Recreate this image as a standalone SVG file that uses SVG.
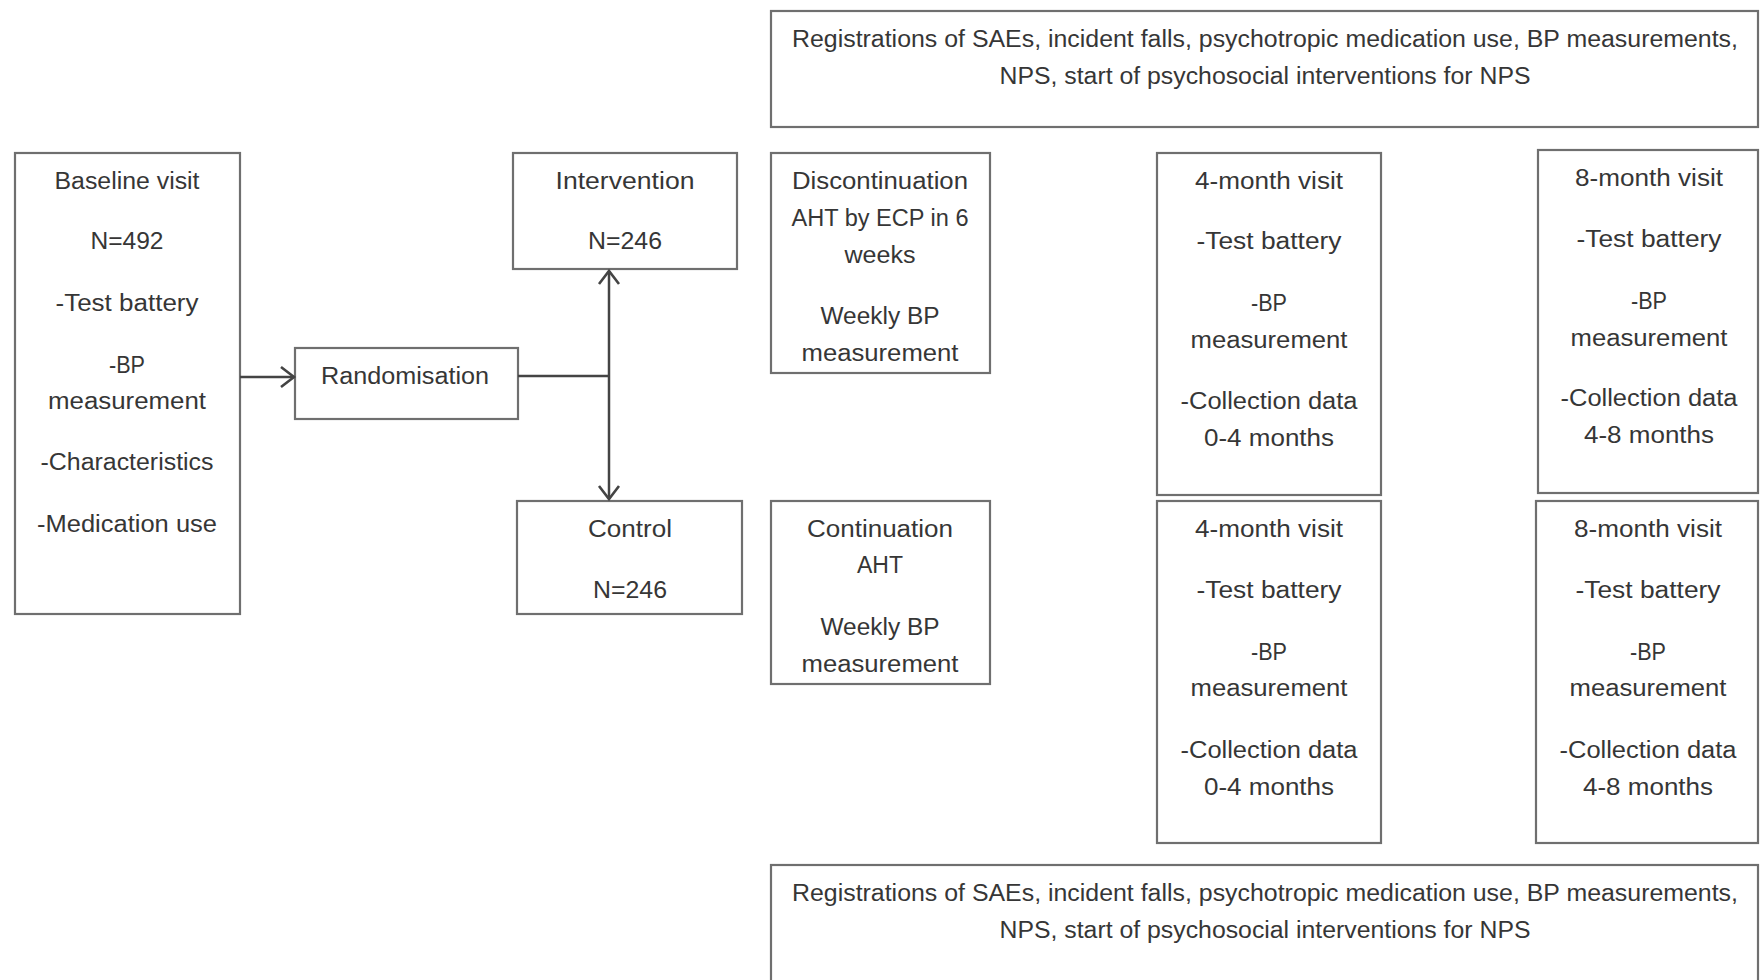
<svg xmlns="http://www.w3.org/2000/svg" width="1760" height="980" viewBox="0 0 1760 980">
<style>
.box{fill:#fff;stroke:#6f6f6f;stroke-width:2.2}
.t{font-family:"Liberation Sans",Arial,sans-serif;font-size:23px;fill:#363636;text-anchor:middle}
.ln{fill:none;stroke:#444;stroke-width:2.5}
</style>
<defs>
<marker id="chev" markerUnits="userSpaceOnUse" markerWidth="22" markerHeight="26" viewBox="0 0 22 26" refX="17" refY="13" orient="auto">
<path d="M4,3 L17,13 L4,23" fill="none" stroke="#444" stroke-width="2.6"/>
</marker>
<marker id="chevs" markerUnits="userSpaceOnUse" markerWidth="22" markerHeight="26" viewBox="0 0 22 26" refX="17" refY="13" orient="auto-start-reverse">
<path d="M4,3 L17,13 L4,23" fill="none" stroke="#444" stroke-width="2.6"/>
</marker>
</defs>
<rect width="1760" height="980" fill="#fff"/>

<g id="reg-top">
<rect class="box" x="771" y="11" width="987" height="116"/>
<text class="t" x="1265" y="47" textLength="946" lengthAdjust="spacingAndGlyphs">Registrations of SAEs, incident falls, psychotropic medication use, BP measurements,</text>
<text class="t" x="1265" y="84" textLength="531" lengthAdjust="spacingAndGlyphs">NPS, start of psychosocial interventions for NPS</text>
</g>

<g id="baseline">
<rect class="box" x="15" y="153" width="225" height="461"/>
<text class="t" x="127" y="189" textLength="145" lengthAdjust="spacingAndGlyphs">Baseline visit</text>
<text class="t" x="127" y="249" textLength="73" lengthAdjust="spacingAndGlyphs">N=492</text>
<text class="t" x="127" y="311" textLength="143" lengthAdjust="spacingAndGlyphs">-Test battery</text>
<text class="t" x="127" y="373" textLength="36" lengthAdjust="spacingAndGlyphs">-BP</text>
<text class="t" x="127" y="409" textLength="158" lengthAdjust="spacingAndGlyphs">measurement</text>
<text class="t" x="127" y="470" textLength="173" lengthAdjust="spacingAndGlyphs">-Characteristics</text>
<text class="t" x="127" y="532" textLength="180" lengthAdjust="spacingAndGlyphs">-Medication use</text>
</g>

<g id="randomisation">
<rect class="box" x="295" y="348" width="223" height="71"/>
<text class="t" x="405" y="384" textLength="168" lengthAdjust="spacingAndGlyphs">Randomisation</text>
</g>

<g id="intervention">
<rect class="box" x="513" y="153" width="224" height="116"/>
<text class="t" x="625" y="189" textLength="139" lengthAdjust="spacingAndGlyphs">Intervention</text>
<text class="t" x="625" y="249" textLength="74" lengthAdjust="spacingAndGlyphs">N=246</text>
</g>

<g id="control">
<rect class="box" x="517" y="501" width="225" height="113"/>
<text class="t" x="630" y="537" textLength="84" lengthAdjust="spacingAndGlyphs">Control</text>
<text class="t" x="630" y="598" textLength="74" lengthAdjust="spacingAndGlyphs">N=246</text>
</g>

<g id="discontinuation">
<rect class="box" x="771" y="153" width="219" height="220"/>
<text class="t" x="880" y="189" textLength="176" lengthAdjust="spacingAndGlyphs">Discontinuation</text>
<text class="t" x="880" y="226" textLength="177" lengthAdjust="spacingAndGlyphs">AHT by ECP in 6</text>
<text class="t" x="880" y="263" textLength="71" lengthAdjust="spacingAndGlyphs">weeks</text>
<text class="t" x="880" y="324" textLength="119" lengthAdjust="spacingAndGlyphs">Weekly BP</text>
<text class="t" x="880" y="361" textLength="157" lengthAdjust="spacingAndGlyphs">measurement</text>
</g>

<g id="continuation">
<rect class="box" x="771" y="501" width="219" height="183"/>
<text class="t" x="880" y="537" textLength="146" lengthAdjust="spacingAndGlyphs">Continuation</text>
<text class="t" x="880" y="573" textLength="46" lengthAdjust="spacingAndGlyphs">AHT</text>
<text class="t" x="880" y="635" textLength="119" lengthAdjust="spacingAndGlyphs">Weekly BP</text>
<text class="t" x="880" y="672" textLength="157" lengthAdjust="spacingAndGlyphs">measurement</text>
</g>

<g id="visit4-top">
<rect class="box" x="1157" y="153" width="224" height="342"/>
<text class="t" x="1269" y="189" textLength="148" lengthAdjust="spacingAndGlyphs">4-month visit</text>
<text class="t" x="1269" y="249" textLength="145" lengthAdjust="spacingAndGlyphs">-Test battery</text>
<text class="t" x="1269" y="311" textLength="36" lengthAdjust="spacingAndGlyphs">-BP</text>
<text class="t" x="1269" y="348" textLength="157" lengthAdjust="spacingAndGlyphs">measurement</text>
<text class="t" x="1269" y="409" textLength="177" lengthAdjust="spacingAndGlyphs">-Collection data</text>
<text class="t" x="1269" y="446" textLength="130" lengthAdjust="spacingAndGlyphs">0-4 months</text>
</g>

<g id="visit8-top">
<rect class="box" x="1538" y="150" width="220" height="343"/>
<text class="t" x="1649" y="186" textLength="148" lengthAdjust="spacingAndGlyphs">8-month visit</text>
<text class="t" x="1649" y="247" textLength="145" lengthAdjust="spacingAndGlyphs">-Test battery</text>
<text class="t" x="1649" y="309" textLength="36" lengthAdjust="spacingAndGlyphs">-BP</text>
<text class="t" x="1649" y="346" textLength="157" lengthAdjust="spacingAndGlyphs">measurement</text>
<text class="t" x="1649" y="406" textLength="177" lengthAdjust="spacingAndGlyphs">-Collection data</text>
<text class="t" x="1649" y="443" textLength="130" lengthAdjust="spacingAndGlyphs">4-8 months</text>
</g>

<g id="visit4-bottom">
<rect class="box" x="1157" y="501" width="224" height="342"/>
<text class="t" x="1269" y="537" textLength="148" lengthAdjust="spacingAndGlyphs">4-month visit</text>
<text class="t" x="1269" y="598" textLength="145" lengthAdjust="spacingAndGlyphs">-Test battery</text>
<text class="t" x="1269" y="660" textLength="36" lengthAdjust="spacingAndGlyphs">-BP</text>
<text class="t" x="1269" y="696" textLength="157" lengthAdjust="spacingAndGlyphs">measurement</text>
<text class="t" x="1269" y="758" textLength="177" lengthAdjust="spacingAndGlyphs">-Collection data</text>
<text class="t" x="1269" y="795" textLength="130" lengthAdjust="spacingAndGlyphs">0-4 months</text>
</g>

<g id="visit8-bottom">
<rect class="box" x="1536" y="501" width="222" height="342"/>
<text class="t" x="1648" y="537" textLength="148" lengthAdjust="spacingAndGlyphs">8-month visit</text>
<text class="t" x="1648" y="598" textLength="145" lengthAdjust="spacingAndGlyphs">-Test battery</text>
<text class="t" x="1648" y="660" textLength="36" lengthAdjust="spacingAndGlyphs">-BP</text>
<text class="t" x="1648" y="696" textLength="157" lengthAdjust="spacingAndGlyphs">measurement</text>
<text class="t" x="1648" y="758" textLength="177" lengthAdjust="spacingAndGlyphs">-Collection data</text>
<text class="t" x="1648" y="795" textLength="130" lengthAdjust="spacingAndGlyphs">4-8 months</text>
</g>

<g id="reg-bottom">
<rect class="box" x="771" y="865" width="987" height="130"/>
<text class="t" x="1265" y="901" textLength="946" lengthAdjust="spacingAndGlyphs">Registrations of SAEs, incident falls, psychotropic medication use, BP measurements,</text>
<text class="t" x="1265" y="938" textLength="531" lengthAdjust="spacingAndGlyphs">NPS, start of psychosocial interventions for NPS</text>
</g>

<g id="connectors">
<line class="ln" x1="240" y1="377" x2="294" y2="377" marker-end="url(#chev)"/>
<line class="ln" x1="518" y1="376" x2="609" y2="376"/>
<line class="ln" x1="609" y1="271" x2="609" y2="499" marker-start="url(#chevs)" marker-end="url(#chev)"/>
</g>
</svg>
